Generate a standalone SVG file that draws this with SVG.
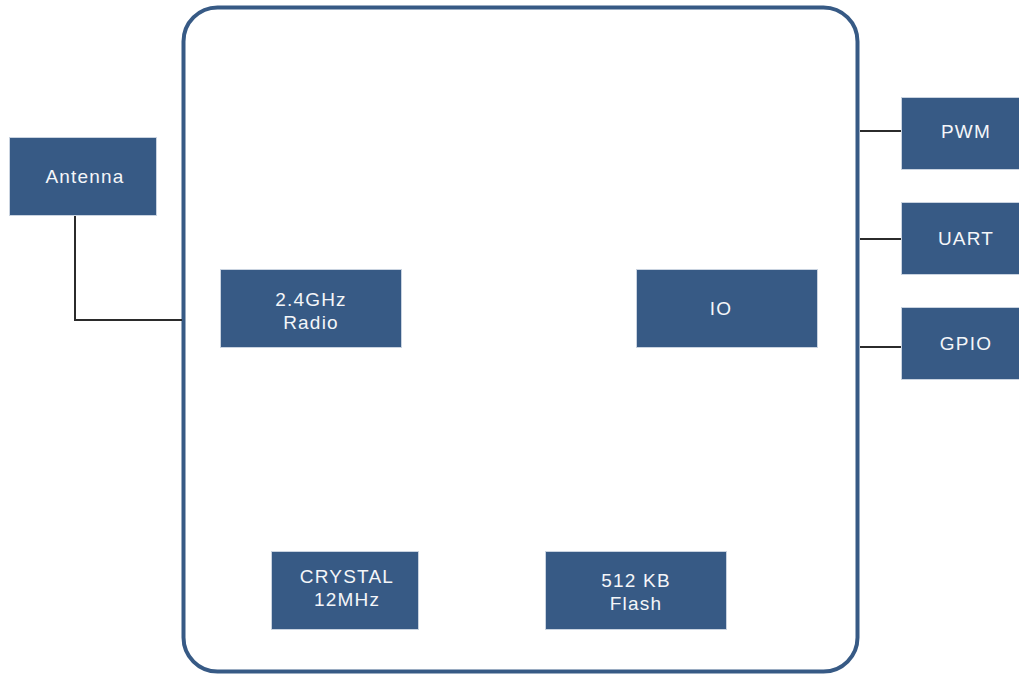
<svg xmlns="http://www.w3.org/2000/svg" width="1019" height="675" viewBox="0 0 1019 675">
  <style>
    .box { fill: #375a85; stroke: #c9d3e0; stroke-width: 1; }
    .lbl { fill: #f4f6f9; font-family: "Liberation Sans", Arial, sans-serif; font-size: 19px; text-anchor: middle; letter-spacing: 1.2px; }
    .wire { fill: none; stroke: #2b2b2b; stroke-width: 2; }
  </style>
  <rect width="1019" height="675" fill="#ffffff"/>

  <!-- chip outline -->
  <rect id="chip" x="183.5" y="7.5" width="674" height="664" rx="34" ry="34" fill="#ffffff" stroke="#375a85" stroke-width="4"/>

  <g id="connectors">
    <polyline class="wire" points="75,215 75,320 182,320"/>
    <line class="wire" x1="860" y1="131" x2="901" y2="131"/>
    <line class="wire" x1="860" y1="239" x2="901" y2="239"/>
    <line class="wire" x1="860" y1="347" x2="901" y2="347"/>
  </g>

  <g id="antenna">
    <rect class="box" x="9.5" y="137.5" width="147" height="78"/>
    <text class="lbl" x="85" y="183">Antenna</text>
  </g>

  <g id="radio">
    <rect class="box" x="220.5" y="269.5" width="181" height="78"/>
    <text class="lbl" x="311" y="306">2.4GHz</text>
    <text class="lbl" x="311" y="329">Radio</text>
  </g>

  <g id="io">
    <rect class="box" x="636.5" y="269.5" width="181" height="78"/>
    <text class="lbl" x="721" y="315">IO</text>
  </g>

  <g id="crystal">
    <rect class="box" x="271.5" y="551.5" width="147" height="78"/>
    <text class="lbl" x="347" y="583">CRYSTAL</text>
    <text class="lbl" x="347" y="606">12MHz</text>
  </g>

  <g id="flash">
    <rect class="box" x="545.5" y="551.5" width="181" height="78"/>
    <text class="lbl" x="636" y="587">512 KB</text>
    <text class="lbl" x="636" y="610">Flash</text>
  </g>

  <g id="pwm">
    <rect class="box" x="901.5" y="97.5" width="120" height="72"/>
    <text class="lbl" x="966" y="138">PWM</text>
  </g>

  <g id="uart">
    <rect class="box" x="901.5" y="202.5" width="120" height="72"/>
    <text class="lbl" x="966" y="245">UART</text>
  </g>

  <g id="gpio">
    <rect class="box" x="901.5" y="307.5" width="120" height="72"/>
    <text class="lbl" x="966" y="350">GPIO</text>
  </g>
</svg>
